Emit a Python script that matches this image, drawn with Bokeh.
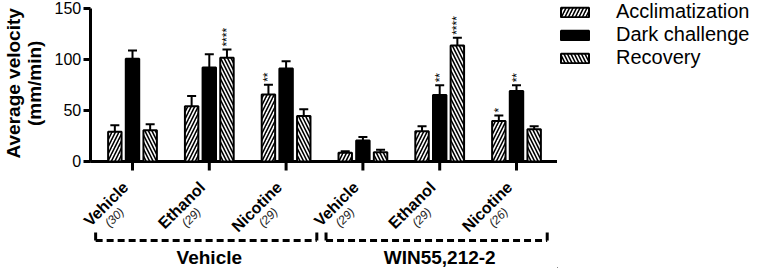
from math import pi
from bokeh.plotting import figure
from bokeh.layouts import row
from bokeh.models import (ColumnDataSource, Range1d, Whisker, TeeHead, Legend, LegendItem,
                          FixedTicker)
from bokeh.transform import dodge
from bokeh.core.properties import value
from bokeh.embed import file_html
from bokeh.resources import INLINE

# ---------------- data ----------------
pretreatments = ["Vehicle", "Vehicle", "Vehicle", "WIN55,212-2", "WIN55,212-2", "WIN55,212-2"]
treatments = ["Vehicle", "Ethanol", "Nicotine", "Vehicle", "Ethanol", "Nicotine"]
sample_sizes = ["(30)", "(29)", "(29)", "(29)", "(29)", "(26)"]
series = ["Acclimatization", "Dark challenge", "Recovery"]

accl = [29, 54, 65.5, 8.5, 29.5, 39.5]
accl_err = [6.5, 10, 9.5, 1.5, 5, 5.5]
dark = [100.5, 92, 91, 20.5, 65, 69]
dark_err = [8, 13, 7, 3.5, 9.5, 5.5]
rec = [30.5, 101.5, 44.5, 9, 113.5, 31.5]
rec_err = [6, 8, 6.5, 2.5, 7.5, 3]

accl_sig = ["", "", "**", "", "", "*"]
dark_sig = ["", "", "", "", "**", "**"]
rec_sig = ["", "****", "", "", "****", ""]

y_ticks = [0, 50, 100, 150]
y_title = ["Average velocity", "(mm/min)"]
group_names = ["Vehicle", "WIN55,212-2"]

# ---------------- layout helpers ----------------
FONT = "Liberation Sans"
W, H = 757, 268
MAIN_W = 557
LEG_W = W - MAIN_W
Y_START, Y_END = -104.7, 157.5
PXU = H / (Y_END - Y_START)          # pixels per y unit
PXX = 76.8                           # pixels per category slot
X_START = -132 / PXX
X_END = X_START + MAIN_W / PXX
AXIS_X = -0.55                       # where the value axis stands


def py(n):
    return n / PXU


def pxx(n):
    return n / PXX


pos = list(range(len(treatments)))

p = figure(width=MAIN_W, height=H, x_range=Range1d(X_START, X_END), y_range=Range1d(Y_START, Y_END),
           x_axis_location=None, output_backend="svg", toolbar_location=None,
           min_border_left=0, min_border_right=0, min_border_top=0, min_border_bottom=0)
p.outline_line_color = None
p.grid.visible = False
p.background_fill_color = "white"
p.border_fill_color = "white"

OFF = 0.23
BW = 0.175

src = ColumnDataSource(dict(
    x=pos,
    accl=accl, accl_hi=[a + e for a, e in zip(accl, accl_err)],
    dark=dark, dark_hi=[a + e for a, e in zip(dark, dark_err)],
    rec=rec, rec_hi=[a + e for a, e in zip(rec, rec_err)],
    accl_sig=accl_sig, dark_sig=dark_sig, rec_sig=rec_sig,
    accl_sy=[a + e + py(3) for a, e in zip(accl, accl_err)],
    dark_sy=[a + e + py(3) for a, e in zip(dark, dark_err)],
    rec_sy=[a + e + py(3) for a, e in zip(rec, rec_err)],
    t=treatments, n=sample_sizes,
))

# category axis line and ticks
p.segment(x0=AXIS_X, x1=X_END, y0=0, y1=0, line_color="black", line_width=3)
p.segment(x0="x", x1="x", y0=0, y1=-py(9), source=src, line_color="black", line_width=3)

specs = [("accl", -OFF, "white", "/"), ("dark", 0, "black", None), ("rec", OFF, "white", "\\")]
for key, off, fill, hatch in specs:
    kw = dict(x=dodge("x", off), top=key, width=BW, source=src,
              fill_color=fill, line_color="black", line_width=2)
    if hatch:
        kw.update(hatch_pattern=hatch, hatch_color="black", hatch_weight=1.6, hatch_scale=7)
    p.vbar(**kw)
    p.add_layout(Whisker(source=src, base=dodge("x", off), upper=f"{key}_hi",
                         lower=key, dimension="height", line_color="black", line_width=2,
                         upper_head=TeeHead(size=9, line_width=2, line_color="black"),
                         lower_head=None))
    p.text(x=dodge("x", off), y=f"{key}_sy", text=f"{key}_sig", source=src,
           angle=pi / 2, text_align="left", text_baseline="middle",
           text_font=value(FONT), text_font_size="12px", text_color="black")

# category labels
p.text(x=dodge("x", -pxx(7)), y=-py(23), text="t", source=src,
       angle=pi / 4, text_align="right", text_baseline="middle",
       text_font=value(FONT), text_font_size="16px", text_font_style="bold", text_color="black")
p.text(x=dodge("x", -pxx(18)), y=-py(56), text="n", source=src,
       angle=pi / 4, text_align="center", text_baseline="middle",
       text_font=value(FONT), text_font_size="12px", text_font_style="italic", text_color="#222222")

# group brackets
gsrc = ColumnDataSource(dict(first=[pos[0], pos[3]], last=[pos[2], pos[5]],
                             mid=[pos[1], pos[4]], name=group_names))
L0, L1 = -0.48, 0.40
yb = -py(79)
p.segment(x0=dodge("first", L0), x1=dodge("last", L1),
          y0=yb, y1=yb, source=gsrc, line_color="black", line_width=3, line_dash="7 4")
p.segment(x0=dodge("first", L0), x1=dodge("first", L0),
          y0=yb, y1=yb + py(8), source=gsrc, line_color="black", line_width=3)
p.segment(x0=dodge("last", L1), x1=dodge("last", L1),
          y0=yb, y1=yb + py(8), source=gsrc, line_color="black", line_width=3)
p.text(x="mid", y=-py(96), text="name", source=gsrc, text_align="center", text_baseline="middle",
       text_font=value(FONT), text_font_size="19px", text_font_style="bold", text_color="black")

# value axis
ax = p.yaxis[0]
ax.fixed_location = AXIS_X
ax.bounds = (0, 150)
ax.ticker = FixedTicker(ticks=y_ticks)
ax.axis_line_width = 3
ax.axis_line_color = "black"
ax.major_tick_line_width = 3
ax.major_tick_line_color = "black"
ax.major_tick_out = 7
ax.major_tick_in = 0
ax.minor_tick_line_color = None
ax.major_label_text_font = FONT
ax.major_label_text_font_size = "16px"
ax.major_label_text_color = "black"
ax.major_label_standoff = 2

# value-axis title (two lines, rotated), placed left of the tick labels
tsrc = ColumnDataSource(dict(x=[X_START + pxx(12.5), X_START + pxx(33.5)],
                             y=[(y_ticks[0] + y_ticks[-1]) / 2 + py(1.5)] * 2, t=y_title))
p.text(x="x", y="y", text="t", source=tsrc, angle=pi / 2, text_align="center",
       text_baseline="middle", text_font=value(FONT), text_font_size="19px",
       text_font_style="bold", text_color="black")

# legend panel (proxy bars lie outside the visible range; only their legend swatches show)
q = figure(width=LEG_W, height=H, x_range=Range1d(0, 1), y_range=Range1d(0, 1),
           x_axis_location=None, y_axis_location=None, output_backend="svg",
           toolbar_location=None, min_border_left=0, min_border_right=0,
           min_border_top=0, min_border_bottom=0)
q.outline_line_color = None
q.grid.visible = False
leg_renderers = []
for key, off, fill, hatch in specs:
    kw = dict(x=[-10], top=[-10], width=0.1, fill_color=fill, line_color="black", line_width=2)
    if hatch:
        kw.update(hatch_pattern=hatch, hatch_color="black", hatch_weight=1.6, hatch_scale=7)
    leg_renderers.append(q.vbar(**kw))

legend = Legend(items=[LegendItem(label=s, renderers=[r]) for s, r in zip(series, leg_renderers)],
                location="top_left", glyph_width=35, glyph_height=12, label_standoff=24,
                label_text_font=FONT, label_text_font_size="20px", label_text_color="black",
                label_height=20, spacing=0, padding=2, margin=0, border_line_color=None,
                background_fill_alpha=0)
q.add_layout(legend, "center")

open("out.html", "w").write(file_html(row(p, q), INLINE))
